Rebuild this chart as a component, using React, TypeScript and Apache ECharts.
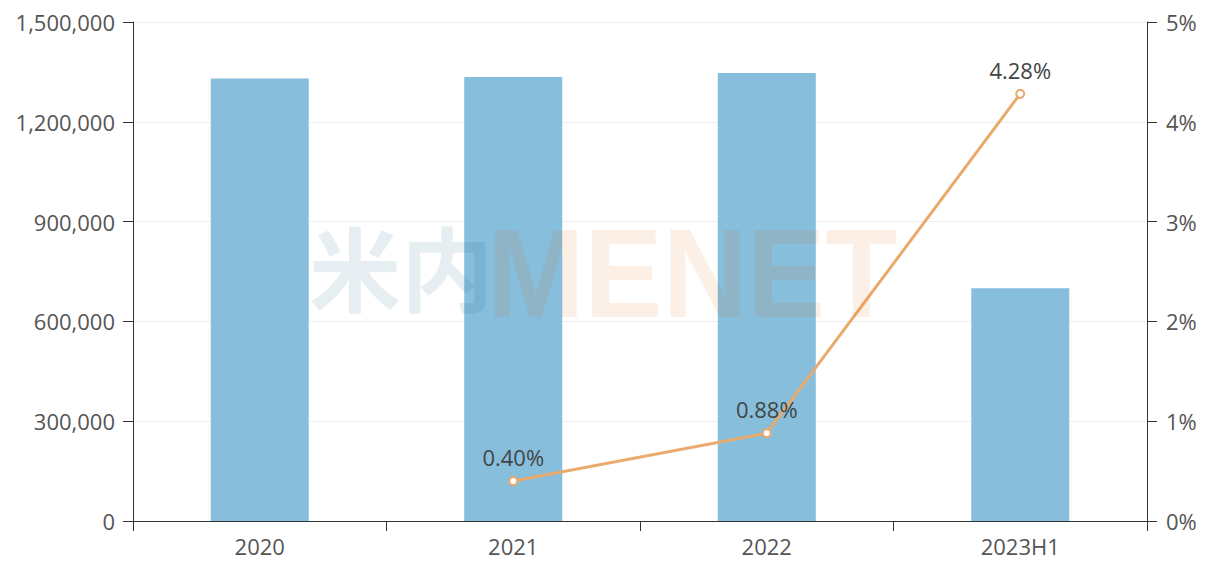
import React, { useEffect, useRef } from "react";
import * as echarts from "echarts";

const categories = ["2020", "2021", "2022", "2023H1"];
const salesValues = [1330000, 1335000, 1347000, 700000];
const growthValues: (number | null)[] = [null, 0.4, 0.88, 4.28];
const leftTicks = { min: 0, max: 1500000, interval: 300000 };
const rightTicks = { min: 0, max: 5, interval: 1 };

export default function App() {
  const ref = useRef<HTMLDivElement>(null);
  useEffect(() => {
    if (!ref.current) return;
    const chart = echarts.init(ref.current, undefined, { renderer: "svg" });
    const font = "'Open Sans', 'Noto Sans', sans-serif";
    chart.setOption({
      animation: false,
      textStyle: { fontFamily: font },
      grid: { left: 133, right: 65, top: 22, bottom: 41 },
      graphic: [
        {
          type: "text",
          left: 309,
          top: 218,
          z: 100,
          silent: true,
          style: {
            text: "米内",
            fontSize: 92,
            fontWeight: "bold",
            fontFamily: "'Noto Sans CJK SC', sans-serif",
            fill: "rgba(15,85,125,0.1)",
          },
        },
        {
          type: "text",
          x: 487,
          y: 210,
          scaleX: 0.93,
          z: 100,
          silent: true,
          style: {
            text: "MENET",
            fontSize: 126,
            fontWeight: "bold",
            fontFamily: "'Liberation Sans', Arial, sans-serif",
            fill: "rgba(230,100,0,0.1)",
          },
        },
      ],
      xAxis: {
        type: "category",
        data: categories,
        boundaryGap: true,
        axisLine: { lineStyle: { color: "#333" } },
        axisTick: { show: true, length: 10, lineStyle: { color: "#333" } },
        axisLabel: { color: "#555", fontSize: 22, margin: 14 },
      },
      yAxis: [
        {
          type: "value",
          min: leftTicks.min,
          max: leftTicks.max,
          interval: leftTicks.interval,
          axisLine: { show: true, lineStyle: { color: "#333" } },
          axisTick: { show: true, length: 10, lineStyle: { color: "#333" } },
          axisLabel: {
            color: "#555",
            fontSize: 22,
            margin: 18,
            formatter: (v: number) => v.toLocaleString("en-US"),
          },
          splitLine: { lineStyle: { color: "#eee" } },
        },
        {
          type: "value",
          min: rightTicks.min,
          max: rightTicks.max,
          interval: rightTicks.interval,
          axisLine: { show: true, lineStyle: { color: "#333" } },
          axisTick: { show: true, length: 10, lineStyle: { color: "#333" } },
          axisLabel: { color: "#555", fontSize: 22, margin: 19, formatter: "{value}%" },
          splitLine: { show: false },
        },
      ],
      series: [
        {
          type: "bar",
          data: salesValues,
          barWidth: 98,
          z: 2,
          itemStyle: { color: "#86bedc" },
        },
        {
          type: "line",
          yAxisIndex: 1,
          data: growthValues,
          z: 3,
          symbol: "emptyCircle",
          symbolSize: 8,
          lineStyle: { color: "#e9aa6c", width: 3 },
          itemStyle: { color: "#e9aa6c", borderWidth: 1.5 },
          label: {
            show: true,
            position: "top",
            distance: 8,
            color: "#444",
            fontSize: 22,
            formatter: (p: any) => Number(p.value).toFixed(2) + "%",
          },
        },
      ],
    });
    return () => chart.dispose();
  }, []);
  return (
    <div
      ref={ref}
      style={{ position: "absolute", left: 0, top: 0, width: 1212, height: 562 }}
    />
  );
}
